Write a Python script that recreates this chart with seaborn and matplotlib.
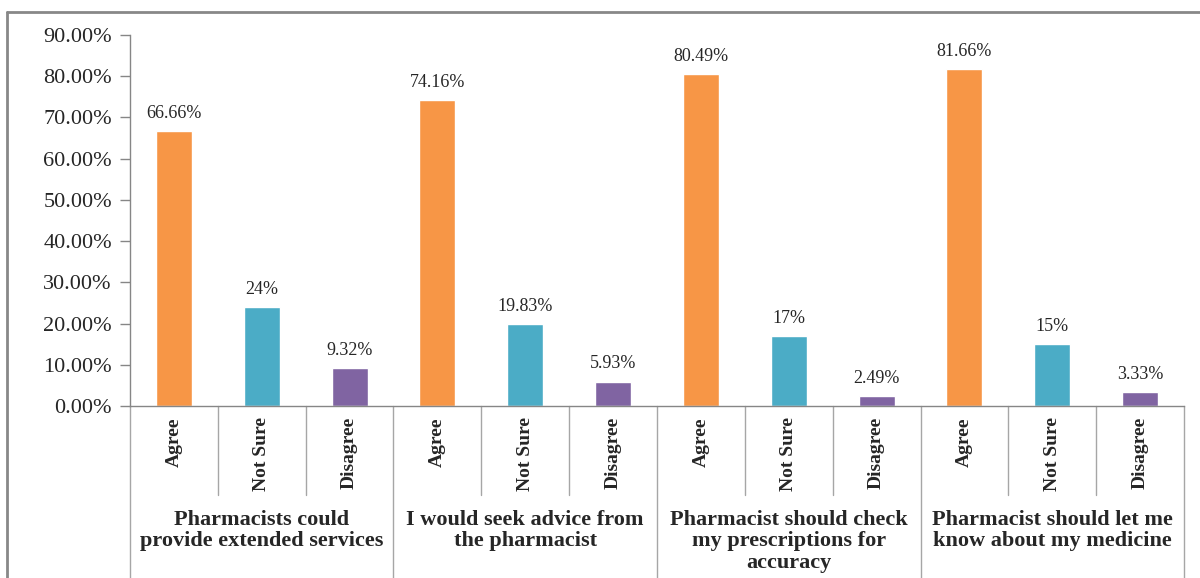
import numpy as np
import pandas as pd
import seaborn as sns
import matplotlib

matplotlib.use("Agg")
import matplotlib.pyplot as plt
import matplotlib.transforms as mtransforms
from matplotlib.lines import Line2D

# Data.
groups = [
    "Pharmacists could\nprovide extended services",
    "I would seek advice from\nthe pharmacist",
    "Pharmacist should check\nmy prescriptions for\naccuracy",
    "Pharmacist should let me\nknow about my medicine",
]
responses = ["Agree", "Not Sure", "Disagree"]
agree = [66.66, 74.16, 80.49, 81.66]
not_sure = [24, 19.83, 17, 15]
disagree = [9.32, 5.93, 2.49, 3.33]
value_labels = [
    ["66.66%", "24%", "9.32%"],
    ["74.16%", "19.83%", "5.93%"],
    ["80.49%", "17%", "2.49%"],
    ["81.66%", "15%", "3.33%"],
]

palette = {"Agree": "#F79646", "Not Sure": "#4BACC6", "Disagree": "#8064A2"}

rows = []
for gi, g in enumerate(groups):
    for r, v, lab in zip(responses, [agree[gi], not_sure[gi], disagree[gi]], value_labels[gi]):
        rows.append({"slot": "{}|{}".format(gi, r), "group": g, "response": r,
                     "value": v, "label": lab})
df = pd.DataFrame(rows)

sns.set_style("white")
plt.rcParams["font.family"] = ["Liberation Serif", "DejaVu Serif"]

fig = plt.figure(figsize=(12, 5.78), dpi=100)
ax = fig.add_axes([0.1083, 0.2976, 0.8784, 0.6418])

sns.barplot(data=df, x="slot", y="value", hue="response", palette=palette,
            dodge=False, width=0.41, legend=False, ax=ax, saturation=1)

ax.set_ylim(0, 90)
ax.set_xlim(-0.5, len(df) - 0.5)
ax.set_yticks(np.arange(0, 91, 10))
ax.set_yticklabels(["{:.2f}%".format(t) for t in np.arange(0, 91, 10)], fontsize=16)
ax.tick_params(axis="y", length=7, width=1, color="#868686", direction="out", left=True, pad=6)
ax.set_xticks(range(len(df)))
ax.set_xticklabels(df["response"], rotation=90, fontsize=14, fontweight="bold", va="top")
ax.tick_params(axis="x", length=0, pad=8)
ax.set_xlabel("")
ax.set_ylabel("")

sns.despine(ax=ax)
for side in ["left", "bottom"]:
    ax.spines[side].set_color("#868686")
    ax.spines[side].set_linewidth(1)

# Value labels above bars.
for i, row in df.iterrows():
    ax.text(i, row["value"] + 2.2, row["label"], ha="center", va="bottom", fontsize=13)

# Multi-level category axis separators and group labels.
trans = mtransforms.blended_transform_factory(ax.transData, ax.transAxes)
n = len(df)
for k in range(n + 1):
    xpos = k - 0.5
    long_line = k % 3 == 0
    y_end = -0.47 if long_line else -0.24
    ax.add_line(Line2D([xpos, xpos], [0, y_end], transform=trans, color="#A6A6A6",
                       lw=1, clip_on=False))

for gi, g in enumerate(groups):
    ax.text(gi * 3 + 1, -0.28, g, transform=trans, ha="center", va="top",
            fontsize=16, fontweight="bold", linespacing=1.1)

# Outer chart frame (only top and left edges visible in the picture).
fig.add_artist(Line2D([7 / 1200, 7 / 1200], [1 - 12 / 578, 0], transform=fig.transFigure,
                      color="#888888", lw=2))
fig.add_artist(Line2D([7 / 1200, 1], [1 - 12 / 578, 1 - 12 / 578], transform=fig.transFigure,
                      color="#888888", lw=2))

fig.savefig("out.png", dpi=100)
plt.close()
